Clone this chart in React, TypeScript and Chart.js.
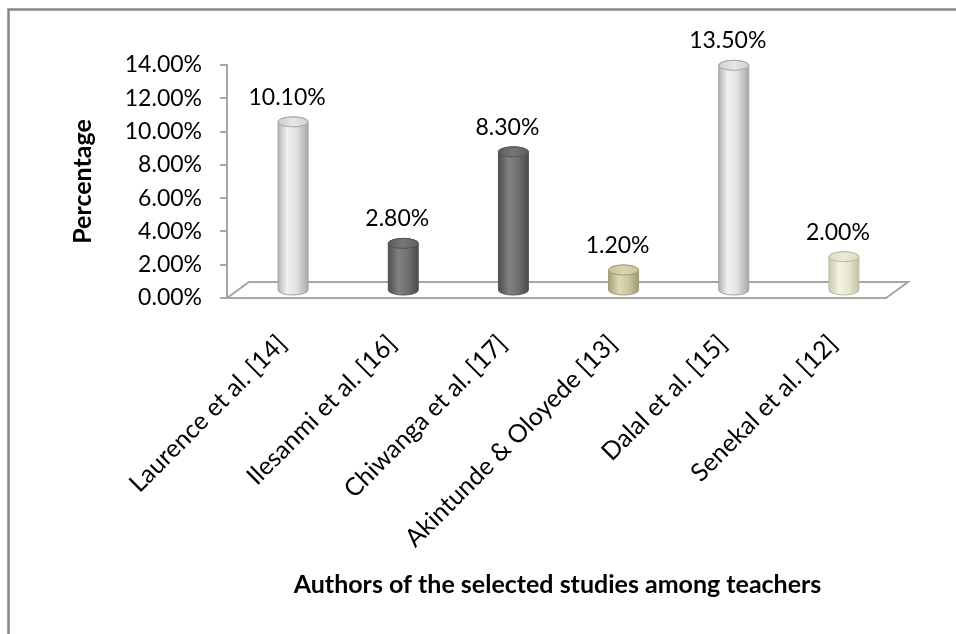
import React, { useEffect, useRef } from 'react';
import { Chart, registerables } from 'chart.js';

Chart.register(...registerables);

const categories = [
  'Laurence et al. [14]',
  'Ilesanmi et al. [16]',
  'Chiwanga et al. [17]',
  'Akintunde & Oloyede [13]',
  'Dalal et al. [15]',
  'Senekal et al. [12]',
];
const percentages = [10.1, 2.8, 8.3, 1.2, 13.5, 2.0];
const yTickValues = [0, 2, 4, 6, 8, 10, 12, 14];
const barStyleKeys = ['light', 'dark', 'dark', 'khaki', 'light', 'cream'];

const xTitle = 'Authors of the selected studies among teachers';
const yTitle = 'Percentage';

const FONT = 'Lato';

const palettes: Record<string, { body: [number, string][]; top: string; topHi: string; stroke: string }> = {
  light: {
    body: [[0, '#b4b4b4'], [0.3, '#f2f2f2'], [0.6, '#e2e2e2'], [1, '#a9a9a9']],
    top: '#cfcfcf',
    topHi: '#e6e6e6',
    stroke: '#a3a3a3',
  },
  dark: {
    body: [[0, '#4e4e4e'], [0.35, '#818181'], [0.65, '#707070'], [1, '#4a4a4a']],
    top: '#5e5e5e',
    topHi: '#767676',
    stroke: '#555555',
  },
  khaki: {
    body: [[0, '#a6a178'], [0.35, '#dcd9b6'], [0.65, '#cdc9a2'], [1, '#9f9a70']],
    top: '#c6c29a',
    topHi: '#d8d5b4',
    stroke: '#a09c78',
  },
  cream: {
    body: [[0, '#cbc8ac'], [0.35, '#f4f2e4'], [0.65, '#e8e6d2'], [1, '#c4c1a4']],
    top: '#dedbc2',
    topHi: '#eceadb',
    stroke: '#bdbaa0',
  },
};

const DEPTH_X = 22;
const DEPTH_Y = 16;
const RX = 15;
const RY = 5;

function drawCylinder(ctx: CanvasRenderingContext2D, cx: number, topY: number, baseY: number, key: string) {
  const p = palettes[key];
  const g = ctx.createLinearGradient(cx - RX, 0, cx + RX, 0);
  p.body.forEach(([o, c]) => g.addColorStop(o, c));
  ctx.save();
  ctx.beginPath();
  ctx.moveTo(cx - RX, topY);
  ctx.lineTo(cx - RX, baseY);
  ctx.ellipse(cx, baseY, RX, RY, 0, Math.PI, 0, true);
  ctx.lineTo(cx + RX, topY);
  ctx.ellipse(cx, topY, RX, RY, 0, 0, Math.PI, true);
  ctx.closePath();
  ctx.fillStyle = g;
  ctx.fill();
  ctx.lineWidth = 1;
  ctx.strokeStyle = p.stroke;
  ctx.stroke();
  const tg = ctx.createLinearGradient(cx - RX, topY, cx + RX, topY);
  tg.addColorStop(0, p.top);
  tg.addColorStop(0.5, p.topHi);
  tg.addColorStop(1, p.top);
  ctx.beginPath();
  ctx.ellipse(cx, topY, RX, RY, 0, 0, Math.PI * 2);
  ctx.fillStyle = tg;
  ctx.fill();
  ctx.stroke();
  ctx.restore();
}

const cylinderPlugin = {
  id: 'cylinders3d',
  beforeDraw(chart: any) {
    const ctx = chart.ctx as CanvasRenderingContext2D;
    ctx.save();
    ctx.fillStyle = '#ffffff';
    ctx.fillRect(0, 0, chart.width, chart.height);
    ctx.strokeStyle = '#878787';
    ctx.lineWidth = 2.5;
    ctx.beginPath();
    ctx.moveTo(8.5, chart.height + 10);
    ctx.lineTo(8.5, 9.5);
    ctx.lineTo(chart.width + 10, 9.5);
    ctx.stroke();
    ctx.restore();
  },
  beforeDatasetsDraw(chart: any) {
    const ctx = chart.ctx as CanvasRenderingContext2D;
    const { left, right, bottom } = chart.chartArea;
    ctx.save();
    ctx.strokeStyle = '#a6a6a6';
    ctx.lineWidth = 2;
    ctx.beginPath();
    ctx.moveTo(left, bottom);
    ctx.lineTo(right - 2, bottom);
    ctx.lineTo(right - 2 + DEPTH_X, bottom - DEPTH_Y);
    ctx.lineTo(left + DEPTH_X, bottom - DEPTH_Y);
    ctx.closePath();
    ctx.stroke();
    ctx.restore();
  },
  afterDatasetsDraw(chart: any) {
    const ctx = chart.ctx as CanvasRenderingContext2D;
    const meta = chart.getDatasetMeta(0);
    const yScale = chart.scales.y;
    const base = yScale.getPixelForValue(0) - DEPTH_Y / 2;
    meta.data.forEach((el: any, i: number) => {
      const cx = el.x + DEPTH_X / 2;
      const topY = el.y - DEPTH_Y / 2;
      drawCylinder(ctx, cx, topY, base, barStyleKeys[i]);
      ctx.save();
      ctx.fillStyle = '#000000';
      ctx.font = `23px ${FONT}`;
      ctx.textAlign = 'center';
      ctx.textBaseline = 'alphabetic';
      ctx.fillText(percentages[i].toFixed(2) + '%', el.x + 5, topY - 17);
      ctx.restore();
    });
  },
};

export default function App() {
  const ref = useRef<HTMLCanvasElement | null>(null);
  useEffect(() => {
    if (!ref.current) return;
    const chart = new Chart(ref.current, {
      type: 'bar',
      data: {
        labels: categories,
        datasets: [
          {
            data: percentages,
            backgroundColor: 'rgba(0,0,0,0)',
            borderWidth: 0,
          },
        ],
      },
      options: {
        responsive: false,
        animation: false,
        events: [],
        layout: { padding: { top: 65, right: 68, bottom: 0, left: 0 } },
        plugins: {
          legend: { display: false },
          tooltip: { enabled: false },
        },
        scales: {
          x: {
            grid: { display: false, drawTicks: false },
            border: { display: false },
            ticks: {
              autoSkip: false,
              minRotation: 45,
              maxRotation: 45,
              padding: 31,
              color: '#000000',
              font: { family: FONT, size: 25 },
            },
            title: {
              display: true,
              text: xTitle,
              color: '#000000',
              font: { family: FONT, size: 25, weight: 'bold' },
              padding: { top: 0, bottom: 34 },
            },
            afterFit: (scale: any) => {
              scale.height = 336;
            },
          },
          y: {
            min: 0,
            max: 14,
            afterBuildTicks: (scale: any) => {
              scale.ticks = yTickValues.map((v) => ({ value: v }));
            },
            grid: {
              display: true,
              drawOnChartArea: false,
              drawTicks: true,
              tickLength: 7,
              color: '#a6a6a6',
              lineWidth: 2,
            },
            border: { display: true, color: '#a6a6a6', width: 2 },
            ticks: {
              padding: 18,
              color: '#000000',
              font: { family: FONT, size: 23 },
              callback: (v: any) => Number(v).toFixed(2) + '%',
            },
            title: {
              display: true,
              text: yTitle,
              color: '#000000',
              font: { family: FONT, size: 25, weight: 'bold' },
              padding: { top: 68, bottom: 0 },
            },
            afterFit: (scale: any) => {
              scale.width = 227;
            },
          },
        },
      },
      plugins: [cylinderPlugin],
    });
    return () => chart.destroy();
  }, []);
  return (
    <div style={{ position: 'absolute', left: 0, top: 0, width: 956, height: 634 }}>
      <canvas ref={ref} width={956} height={634} />
    </div>
  );
}
